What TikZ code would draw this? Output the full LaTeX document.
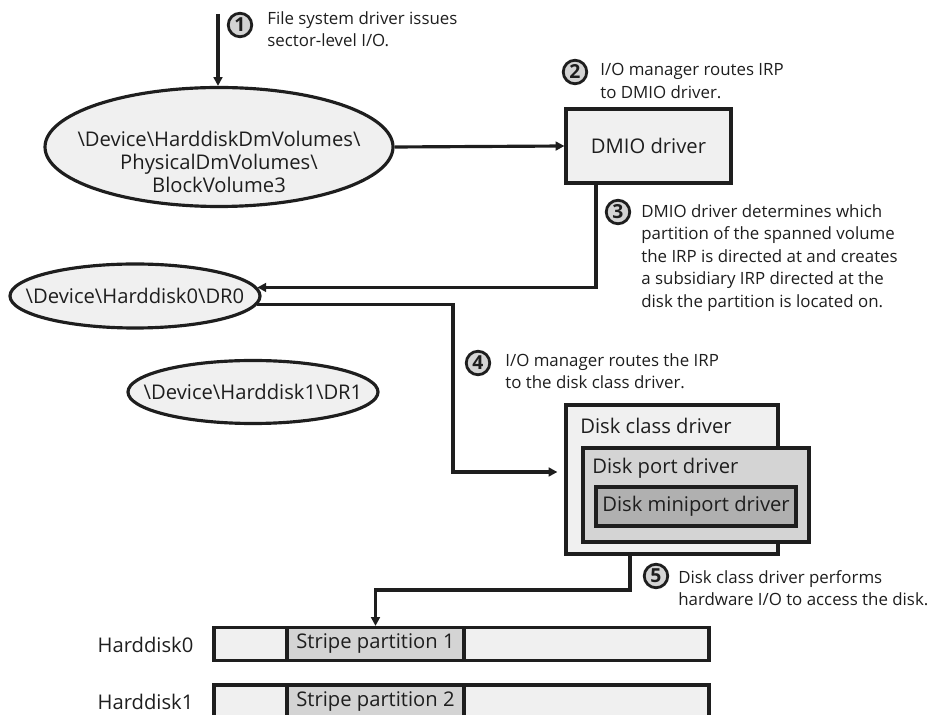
\documentclass[tikz,border=0pt]{standalone}
\usepackage{fontspec}
\setmainfont{Open Sans}
\usepackage{xcolor}
\usepackage{tikz}
\usetikzlibrary{positioning,shapes.geometric,arrows.meta,calc}

\definecolor{boxlight}{HTML}{F0F0F0}
\definecolor{boxmid}{HTML}{D4D4D4}
\definecolor{boxdark}{HTML}{B0B0B0}
\definecolor{ink}{HTML}{1E1E1E}

\newcommand{\bs}{\textbackslash}
% text that does not push the ellipse outwards
\newcommand{\objtext}[1]{\makebox[0pt]{#1}}

\begin{document}
\begin{tikzpicture}[
    every node/.style={text=ink},
    devobj/.style={ellipse, draw=ink, line width=1.8pt, fill=boxlight, inner sep=0pt, font=\fontsize{11.5}{13.1}\selectfont},
    objlabel/.style={inner sep=0pt, align=center, font=\fontsize{11.5}{13.1}\selectfont},
    drvbox/.style={rectangle, draw=ink, line width=1.8pt, inner sep=0pt, font=\fontsize{11.5}{13.2}\selectfont},
    diskbar/.style={rectangle, draw=ink, line width=1.8pt, fill=boxlight, inner sep=0pt, minimum width=9.9cm, minimum height=0.66cm},
    stripe/.style={rectangle, draw=ink, line width=1.8pt, fill=boxmid, inner sep=0pt, minimum width=3.54cm, minimum height=0.66cm, font=\fontsize{11.5}{13.2}\selectfont},
    stepnum/.style={circle, draw=ink, line width=1.6pt, fill=boxmid, inner sep=0pt, minimum size=0.47cm, font=\fontsize{11}{11}\selectfont\bfseries},
    note/.style={align=left, anchor=north west, inner sep=0pt, font=\fontsize{9.6}{12.8}\selectfont},
    arrow/.style={-{Triangle[length=5pt,width=5pt]}, draw=ink, line width=1.8pt}
]
\useasboundingbox (0,0) rectangle (18.76,-14.3);
\clip (0,0) rectangle (18.76,-14.3);

% device objects
\node[devobj, minimum width=6.96cm, minimum height=2.38cm] (vol) at (4.38,-2.94) {};
\node[objlabel] (voltext) at ([yshift=-0.3cm]vol.center) {\bs Device\bs HarddiskDmVolumes\bs\\PhysicalDmVolumes\bs\\BlockVolume3};
\node[devobj, minimum width=5.0cm, minimum height=1.28cm] (dr0) at (2.7,-5.92) {\objtext{\bs Device\bs Harddisk0\bs DR0}};
\node[devobj, minimum width=5.0cm, minimum height=1.26cm] (dr1) at (5.06,-7.84) {\objtext{\bs Device\bs Harddisk1\bs DR1}};

% drivers
\node[drvbox, fill=boxlight, minimum width=3.3cm, minimum height=1.48cm] (dmio) at (12.97,-2.92) {DMIO driver};
\node[drvbox, fill=boxlight, minimum width=4.24cm, minimum height=2.98cm] (class) at (13.44,-9.59) {};
\node[drvbox, fill=boxmid, minimum width=4.52cm, minimum height=1.88cm] (port) at (13.92,-9.9) {};
\node[drvbox, fill=boxdark, minimum width=4.0cm, minimum height=0.78cm] (mini) at (13.92,-10.13) {Disk miniport driver};
\node[anchor=west, inner sep=0pt, font=\fontsize{11.5}{13.2}\selectfont] (classlbl) at (11.6,-8.52) {Disk class driver};
\node[anchor=west, inner sep=0pt, font=\fontsize{11.5}{13.2}\selectfont] (portlbl) at (11.84,-9.36) {Disk port driver};

% disks
\node[font=\fontsize{11.5}{13.2}\selectfont] (hd0lbl) at (2.91,-12.9) {Harddisk0};
\node[font=\fontsize{11.5}{13.2}\selectfont] (hd1lbl) at (2.91,-14.04) {Harddisk1};
\node[diskbar] (hd0) at (9.23,-12.88) {};
\node[diskbar] (hd1) at (9.23,-14.03) {};
\node[stripe] (sp1) at (7.51,-12.88) {Stripe partition 1};
\node[stripe] (sp2) at (7.51,-14.03) {Stripe partition 2};

% steps
\node[stepnum] (s1) at (4.8,-0.5) {1};
\node[stepnum] (s2) at (11.5,-1.44) {2};
\node[stepnum] (s3) at (12.36,-4.24) {3};
\node[stepnum] (s4) at (9.56,-7.26) {4};
\node[stepnum] (s5) at (13.12,-11.52) {5};

\node[note] (n1) at (5.34,-0.22) {File system driver issues\\sector-level I/O.};
\node[note] (n2) at (12.0,-1.26) {I/O manager routes IRP\\to DMIO driver.};
\node[note] (n3) at (12.82,-4.08) {DMIO driver determines which\\partition of the spanned volume\\the IRP is directed at and creates\\a subsidiary IRP directed at the\\disk the partition is located on.};
\node[note] (n4) at (10.1,-7.06) {I/O manager routes the IRP\\to the disk class driver.};
\node[note] (n5) at (13.56,-11.4) {Disk class driver performs\\hardware I/O to access the disk.};

% request path
\coordinate (top) at (4.36,-0.28);
\coordinate (bend4) at (9.06,-9.44);
\coordinate (bend5) at (12.6,-11.8);

\draw[arrow] (top) -- (vol.north -| top);
\draw[arrow] (vol.east) -- (dmio.west);
\draw[arrow] ([xshift=-1.05cm]dmio.south) |- (dr0.4);
\draw[arrow, shorten >=4pt] (dr0.-4) -| (bend4) -- (class.west |- bend4);
\draw[arrow] (class.south -| bend5) |- (bend5 -| sp1.north) -- (sp1.north);

\end{tikzpicture}
\end{document}
